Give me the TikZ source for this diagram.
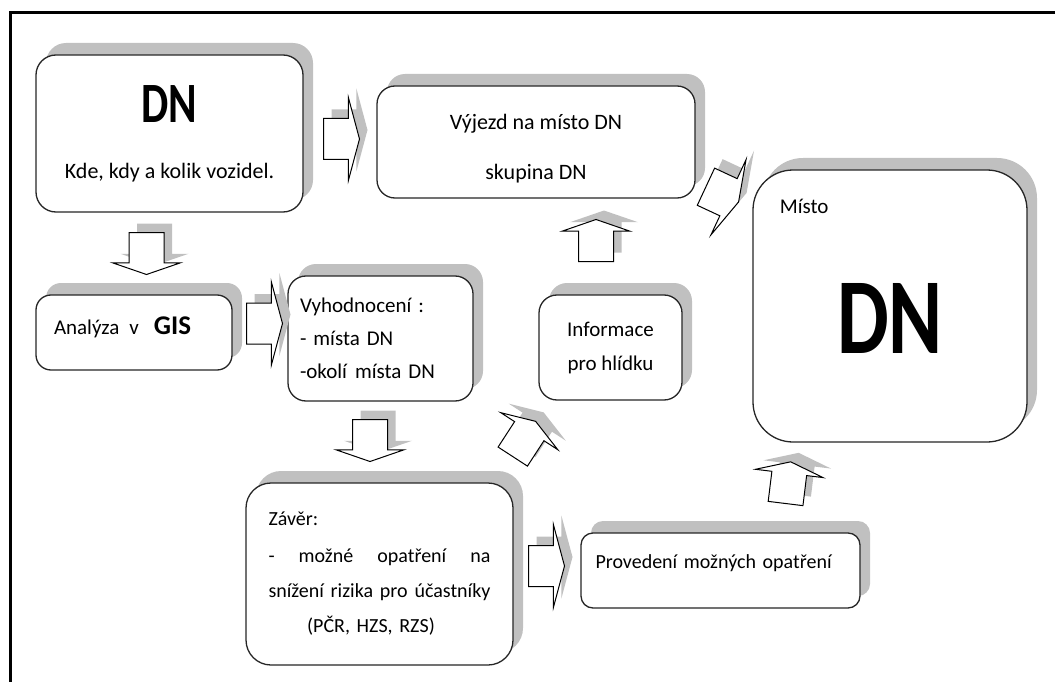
\documentclass[tikz,border=0pt]{standalone}
\usepackage{fontspec}
\setmainfont{Carlito}
\newfontfamily\narrowbold[FakeStretch=0.76]{Carlito}
\usetikzlibrary{shapes.arrows,shadows}

\definecolor{shadowgray}{RGB}{192,192,192}

\tikzset{
  grayshadow/.style={drop shadow={shadow xshift=10pt, shadow yshift=12pt, fill=shadowgray, opacity=1}},
  roundbox/.style={draw=black!85, line width=1.3pt, fill=white, rounded corners=#1, inner sep=0pt, grayshadow},
  roundbox/.default=18pt,
  bigarr/.style={single arrow, draw=black, line width=1pt, fill=white, anchor=tail,
    inner xsep=0pt, inner ysep=20pt, minimum height=36pt,
    single arrow head extend=21pt, single arrow tip angle=150,
    drop shadow={shadow xshift=8pt, shadow yshift=9pt, fill=shadowgray, opacity=1}},
  smallarr/.style={bigarr, inner ysep=17pt, minimum height=42pt,
    single arrow head extend=16.5pt, single arrow tip angle=142},
}

\begin{document}
\begin{tikzpicture}[x=1pt, y=-1pt, every node/.style={font=\fontsize{21}{25}\selectfont}]
    \useasboundingbox (0,0) rectangle (1055,682);

    % Frame
    \draw[line width=3pt, line join=miter] (1055,13) -- (10.5,13) -- (10.5,682);

    % Boxes
    \node (dn) [roundbox=20pt, minimum width=267pt, minimum height=157pt, align=center,
        font=\fontsize{22}{26}\selectfont] at (169.5,133.5)
        {{\narrowbold\bfseries\fontsize{57}{57}\selectfont DN}\\[30pt] Kde, kdy a kolik vozidel.\hspace{14pt}};
    \node (vyjezd) [roundbox, minimum width=318pt, minimum height=112pt, align=center,
        font=\fontsize{22}{26}\selectfont] at (536,142)
        {\rule{0pt}{28pt}Výjezd na místo DN\\[24pt] skupina DN};
    \node (misto) [roundbox=40pt, minimum width=274pt, minimum height=272pt,
        text height=94pt, text depth=0pt,
        label={[anchor=base west, xshift=24pt, yshift=-44pt]north west:Místo}] at (890,306)
        {\narrowbold\bfseries\fontsize{108}{108}\selectfont DN};
    \node (gis) [roundbox=15pt, minimum width=196pt, minimum height=75pt, text width=160pt,
        align=left, text height=17pt, text depth=14pt] at (134,332.5)
        {Analýza\hspace{10pt}v\hspace{15pt}{\bfseries\fontsize{27}{27}\selectfont GIS}};
    \node (vyhod) [roundbox, minimum width=185pt, minimum height=125pt, text width=161pt,
        align=left] at (380.5,338.5)
        {Vyhodnocení :\\[8pt] - místa DN\\[8pt] -okolí\hspace{8pt}místa DN};
    \node (info) [roundbox, minimum width=143pt, minimum height=105pt, align=center] at (610.5,347.5)
        {Informace\\[9pt] pro hlídku};
    \node (zaver) [roundbox=25pt, minimum width=267pt, minimum height=182pt, text width=222pt,
        align=left, font=\fontsize{20}{24}\selectfont] at (379.5,574)
        {Závěr:\\[13pt] \makebox[222pt]{-\hfill možné\hfill opatření\hfill na}\\[11pt]
         \makebox[222pt]{snížení\hfill rizika\hfill pro\hfill účastníky}\\[11pt]
         \makebox[205pt]{(PČR, HZS, RZS)}};
    \node (proved) [roundbox=12pt, minimum width=279pt, minimum height=75pt, text width=250pt,
        align=left, text height=15pt, text depth=19pt, font=\fontsize{20}{24}\selectfont] at (720.5,570.5)
        {Provedení možných opatření};

    % Block arrows between the boxes
    \node (a1) [bigarr] at (323,139) {};
    \node (a2) [smallarr, rotate=-90] at (146.5,232) {};
    \node (a3) [bigarr] at (246,323.5) {};
    \node (a4) [smallarr, rotate=-90] at (370,419) {};
    \node (a5) [smallarr, rotate=57] at (512.5,457) {};
    \node (a6) [smallarr, rotate=90] at (596,262) {};
    \node (a7) [bigarr, rotate=-25] at (705.5,186.5) {};
    \node (a8) [bigarr] at (528,566) {};
    \node (a9) [smallarr, rotate=83] at (785.5,504) {};

\end{tikzpicture}
\end{document}
